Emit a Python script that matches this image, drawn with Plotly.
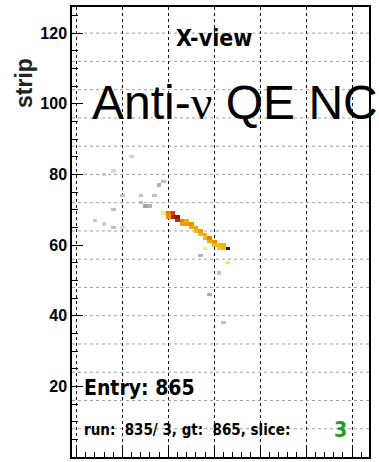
import numpy as np
import plotly.graph_objects as go

# Hits belonging to the selected slice: plane, strip, relative charge
track_plane = [20, 20, 21, 21, 22, 22, 23, 23, 24, 24, 25, 25, 26, 26, 27, 27, 28, 28,
               29, 29, 30, 30, 31, 31, 32, 32, 33, 33, 28, 19]
track_strip = [69, 68, 69, 68, 68, 67, 67, 66, 67, 66, 66, 65, 65, 64, 64, 63, 63, 62,
               62, 61, 61, 60, 60, 59, 60, 59, 59, 55, 59, 69]
track_q = [0.6, 0.55, 0.75, 0.85, 0.9, 0.8, 0.6, 0.5, 0.45, 0.5, 0.55, 0.45, 0.5, 0.4, 0.5, 0.4,
           0.45, 0.4, 0.6, 0.45, 0.55, 0.4, 0.4, 0.35, 0.45, 0.4, 1.0, 0.25, 0.12, 0.15]

# Hits outside the slice (drawn in grey)
other_plane = [6, 8, 10, 14, 17, 18, 19, 14, 15, 16, 8, 4, 6, 8, 10, 12, 27, 31, 29, 32]
other_strip = [80, 81, 74, 74, 74, 77, 78, 72, 71, 71, 70, 67, 66, 65, 65, 85, 57, 52, 46, 38]
other_q = [0.35, 0.2, 0.45, 0.45, 0.45, 0.65, 0.45, 0.45, 0.75, 0.55, 0.45, 0.35, 0.3, 0.45,
           0.2, 0.25, 0.55, 0.45, 0.65, 0.45]

y_ticks = [0, 20, 40, 60, 80, 100, 120]

N_PLANES = 64
N_STRIPS = 128


def to_grid(planes, strips, q):
    z = np.full((N_STRIPS, N_PLANES), np.nan)
    for p, s, v in zip(planes, strips, q):
        z[s, p] = v
    return z


xs = np.arange(N_PLANES)
ys = np.arange(N_STRIPS)

fig = go.Figure()
fig.add_trace(go.Heatmap(
    x=xs, y=ys, z=to_grid(other_plane, other_strip, other_q),
    zmin=0, zmax=1,
    colorscale=[[0, "#ececec"], [1, "#8c8c8c"]],
    showscale=False, hoverongaps=False,
))
fig.add_trace(go.Heatmap(
    x=xs, y=ys, z=to_grid(track_plane, track_strip, track_q),
    zmin=0, zmax=1,
    colorscale=[[0, "#fff8a0"], [0.25, "#ffe030"], [0.45, "#f2b000"],
                [0.6, "#e88000"], [0.75, "#d03a10"], [0.9, "#8a1a10"], [1, "#1c1c40"]],
    showscale=False, hoverongaps=False,
))

# horizontal dotted grid every 8 strips
shapes = []
for g in range(8, 128, 8):
    shapes.append(dict(type="line", xref="paper", x0=0, x1=1, yref="y", y0=g, y1=g,
                       line=dict(color="#a0a0a0", width=1, dash="dot"), layer="below"))

L, R, T, B = 72, 10, 7, 5
W, H = 379, 462
pw, ph = W - L - R, H - T - B


def px(x):
    return (x - L) / pw


def py(y):
    return (H - B - y) / ph


narrow = "DejaVu Sans Condensed, Liberation Sans Narrow, Liberation Sans"
annotations = [
    dict(x=px(214), y=py(38), text="<b>X-view</b>",
         font=dict(family=narrow, size=23, color="black"), xanchor="center", yanchor="middle"),
    dict(x=px(90), y=py(102),
         text="Anti-<span style=\"font-family:Liberation Serif\">ν</span> QE NC",
         font=dict(family="Liberation Sans", size=48, color="black"),
         xanchor="left", yanchor="middle"),
    dict(x=px(82), y=py(388), text="<b>Entry: 865</b>",
         font=dict(family=narrow, size=21, color="black"), xanchor="left", yanchor="middle"),
    dict(x=px(82), y=py(430),
         text="<b>run:\u00a0\u00a0835/\u00a03,\u00a0gt:\u00a0\u00a0865,\u00a0slice:</b>",
         font=dict(family=narrow, size=15, color="black"),
         xanchor="left", yanchor="middle"),
    dict(x=px(340), y=py(430), text="<b>3</b>",
         font=dict(family=narrow, size=21, color="#1e9e1e"), xanchor="center", yanchor="middle"),
    dict(x=px(24), y=py(83), text="<b>strip</b>", textangle=-90,
         font=dict(family="Liberation Sans", size=23, color="#222"),
         xanchor="center", yanchor="middle"),
]
for a in annotations:
    a.update(xref="paper", yref="paper", showarrow=False)

fig.update_layout(
    width=W, height=H,
    margin=dict(l=L, r=R, t=T, b=B),
    paper_bgcolor="white", plot_bgcolor="white",
    shapes=shapes, annotations=annotations,
    xaxis=dict(range=[-0.98, 63.7], showgrid=True, gridcolor="#111", griddash="dot",
               gridwidth=1, tick0=0, dtick=10, ticks="inside", ticklen=9, tickcolor="black",
               showticklabels=False, zeroline=False,
               showline=True, linecolor="black", linewidth=1.5, mirror=True,
               minor=dict(dtick=2, ticks="inside", ticklen=5, tickcolor="black", showgrid=False)),
    yaxis=dict(range=[0, 127.4], showgrid=False, tickvals=y_ticks, ticktext=[str(v) for v in y_ticks],
               ticks="inside", ticklen=11, tickcolor="black", zeroline=False,
               tickfont=dict(family="Liberation Sans", size=16, color="black", weight="bold"),
               showline=True, linecolor="black", linewidth=1.5, mirror=True,
               minor=dict(dtick=5, ticks="inside", ticklen=6, tickcolor="black", showgrid=False)),
)

fig.write_html("out.html")
